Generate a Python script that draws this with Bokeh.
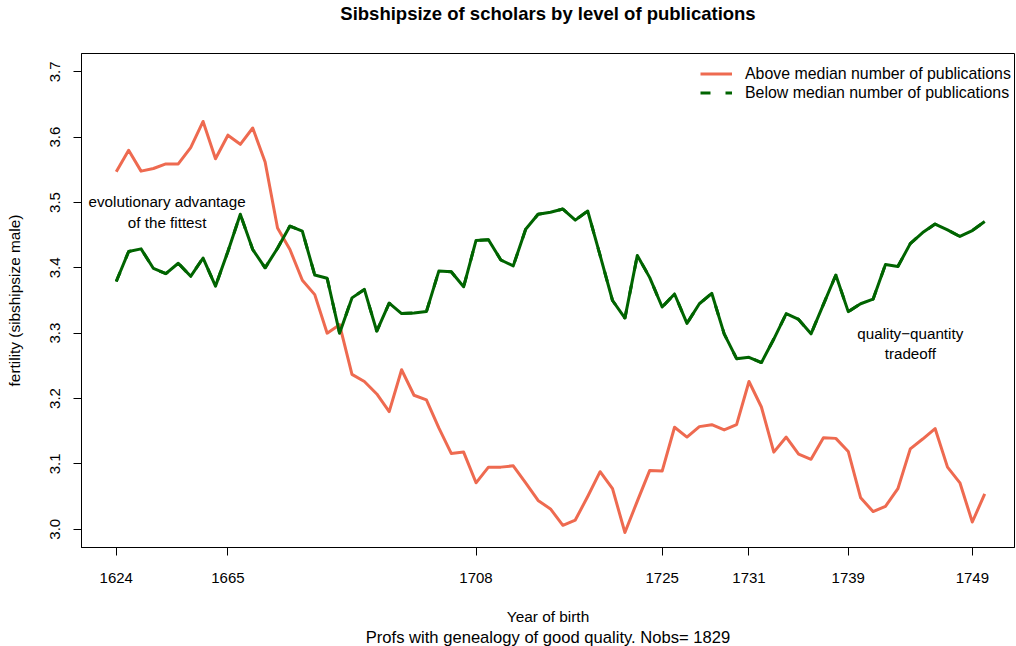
from bokeh.plotting import figure
from bokeh.models import (Range1d, FixedTicker, Title, Legend, LegendItem,
                          ColumnDataSource, Label, PrintfTickFormatter)
from bokeh.embed import file_html
from bokeh.resources import INLINE

# ---------------- data ----------------
year_labels = ["1624", "1665", "1708", "1725", "1731", "1739", "1749"]
year_tick_index = [0, 9, 29, 44, 51, 59, 69]

above_median = [3.547, 3.580, 3.548, 3.552, 3.559, 3.559, 3.584, 3.624, 3.567, 3.603,
                3.589, 3.614, 3.562, 3.461, 3.428, 3.381, 3.359, 3.300, 3.313, 3.237,
                3.226, 3.207, 3.180, 3.244, 3.205, 3.198, 3.155, 3.116, 3.118, 3.071,
                3.095, 3.095, 3.097, 3.071, 3.044, 3.031, 3.006, 3.014, 3.050, 3.088,
                3.062, 2.995, 3.043, 3.090, 3.089, 3.156, 3.141, 3.157, 3.160, 3.152,
                3.160, 3.226, 3.187, 3.118, 3.141, 3.115, 3.107, 3.140, 3.139, 3.119,
                3.048, 3.027, 3.035, 3.062, 3.123, 3.138, 3.154, 3.095, 3.071, 3.011,
                3.054]

below_median = [3.379, 3.425, 3.429, 3.399, 3.391, 3.407, 3.387, 3.415, 3.372, 3.425,
                3.482, 3.428, 3.400, 3.430, 3.464, 3.456, 3.389, 3.384, 3.300, 3.354,
                3.367, 3.303, 3.346, 3.330, 3.331, 3.333, 3.395, 3.394, 3.371, 3.442,
                3.443, 3.412, 3.403, 3.459, 3.482, 3.485, 3.490, 3.473, 3.487, 3.419,
                3.350, 3.323, 3.419, 3.385, 3.340, 3.360, 3.315, 3.345, 3.361, 3.299,
                3.261, 3.263, 3.255, 3.291, 3.330, 3.321, 3.299, 3.344, 3.389, 3.333,
                3.345, 3.352, 3.405, 3.402, 3.437, 3.454, 3.467, 3.458, 3.448, 3.457,
                3.471]

obs_index = list(range(len(above_median)))

y_ticks = [3.0, 3.1, 3.2, 3.3, 3.4, 3.5, 3.6, 3.7]

annotations = [
    ("evolutionary advantage", 4.1, 3.502),
    ("of the fittest", 4.1, 3.469),
    ("quality\u2212quantity", 64.0, 3.300),
    ("tradeoff", 64.0, 3.269),
]

title_text = "Sibshipsize of scholars by level of publications"
x_label = "Year of birth"
sub_label = "Profs with genealogy of good quality. Nobs= 1829"
y_label = "fertility (sibshipsize male)"
legend_labels = ["Above median number of publications",
                 "Below median number of publications"]

RED = "#EE6A50"
GREEN = "#006400"
FONT = "Liberation Sans"

# ---------------- figure ----------------
p = figure(frame_width=933, frame_height=494, title=None,
           x_range=Range1d(-2.8, 72.4), y_range=Range1d(2.972, 3.728),
           output_backend="svg", toolbar_location=None,
           min_border_left=81, min_border_right=1,
           min_border_top=53, min_border_bottom=98)

# spacer between frame and title (closest to the frame), then the title itself
spacer = Title(text=" ", text_font=FONT, text_font_size="10px", standoff=15,
               vertical_align="top")
p.add_layout(spacer, "above")
main_title = Title(text=title_text, text_font=FONT, text_font_size="18.5px",
                   text_font_style="bold", align="center", vertical_align="top",
                   standoff=0, text_color="black")
p.add_layout(main_title, "above")

p.outline_line_color = "black"
p.outline_line_width = 1
p.outline_line_alpha = 1.0
p.xgrid.visible = False
p.ygrid.visible = False
p.background_fill_color = "white"
p.border_fill_color = "white"

for ax in (p.xaxis[0], p.yaxis[0]):
    ax.axis_line_color = "black"
    ax.major_tick_line_color = "black"
    ax.major_tick_in = 0
    ax.major_tick_out = 8
    ax.minor_tick_line_color = None
    ax.major_label_text_font = FONT
    ax.major_label_text_font_size = "15px"
    ax.major_label_text_color = "black"
    ax.axis_label_text_font = FONT
    ax.axis_label_text_font_size = "15.4px"
    ax.axis_label_text_font_style = "normal"
    ax.axis_label_text_color = "black"

p.xaxis.ticker = FixedTicker(ticks=year_tick_index)
p.xaxis.major_label_overrides = {i: lab for i, lab in zip(year_tick_index, year_labels)}
p.xaxis.major_label_standoff = 17
p.xaxis.axis_label = x_label
p.xaxis.axis_label_standoff = 22

p.yaxis.ticker = FixedTicker(ticks=y_ticks)
p.yaxis.formatter = PrintfTickFormatter(format="%.1f")
p.yaxis.major_label_orientation = "vertical"
p.yaxis.major_label_standoff = 13
p.yaxis.axis_label = y_label
p.yaxis.axis_label_standoff = 25

sub = Title(text=sub_label, align="center", text_font=FONT, text_font_size="16.6px",
            text_font_style="normal", text_color="black", standoff=0,
            vertical_align="top")
p.add_layout(sub, "below")

src = ColumnDataSource(dict(x=obs_index, above=above_median, below=below_median))

# dashed key for the legend (drawn underneath the solid line, so it is hidden in the plot)
r_below_key = p.line("x", "below", source=src, line_color=GREEN, line_width=3,
                     line_dash="10 15")
r_above = p.line("x", "above", source=src, line_color=RED, line_width=3, line_join="round")
r_below = p.line("x", "below", source=src, line_color=GREEN, line_width=3, line_join="round")

for txt, ax_, ay_ in annotations:
    p.add_layout(Label(x=ax_, y=ay_, text=txt, text_align="center", text_baseline="middle",
                       text_font=FONT, text_font_size="15.2px", text_color="black"))

legend = Legend(items=[LegendItem(label=legend_labels[0], renderers=[r_above]),
                       LegendItem(label=legend_labels[1], renderers=[r_below_key])],
                location=(619, 445), orientation="vertical")
legend.padding = 0
legend.margin = 0
legend.spacing = 0
legend.glyph_width = 32
legend.glyph_height = 19
legend.label_height = 19
legend.label_standoff = 13
legend.label_text_font = FONT
legend.label_text_font_size = "15.9px"
legend.label_text_color = "black"
legend.border_line_color = None
legend.background_fill_alpha = 0
p.add_layout(legend, "center")

open("out.html", "w").write(file_html(p, INLINE))
